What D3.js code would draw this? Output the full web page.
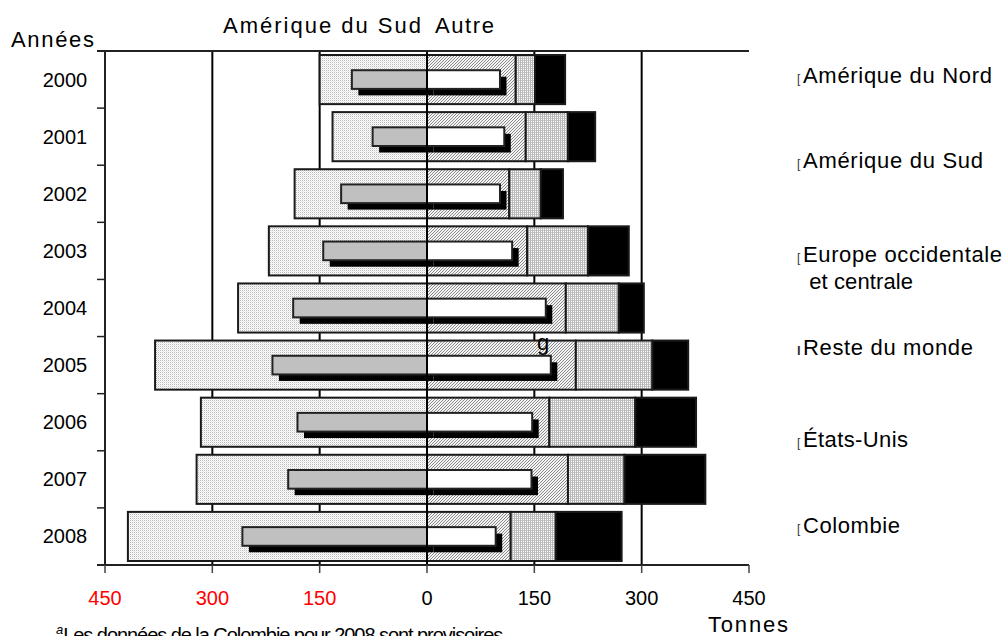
<!DOCTYPE html>
<html><head><meta charset="utf-8">
<script src="https://cdn.jsdelivr.net/npm/d3@7"></script>
<style>body{margin:0;background:#fff}svg{display:block}text{font-family:"Liberation Sans",Arial,sans-serif}</style>
</head><body><svg id="c" width="1005" height="636"></svg>
<script>
const years = ["2000","2001","2002","2003","2004","2005","2006","2007","2008"];
const ameriqueSud = [150,132,185,221,264,380,316,322,418];
const colombie = [105,76,120,145,187,216,181,194,258];
const etatsUnis = [102,108,102,119,166,173,147,146,96];
const ameriqueNord = [124,138,115,140,194,208,171,197,117];
const europe = [27,59,44,85,74,107,120,79,63];
const resteMonde = [42,38,31,57,35,50,85,113,92];
const xTicks = [-450,-300,-150,0,150,300,450];
const legendItems = [
  {lines:["Amérique du Nord"], y:83, w:[189]},
  {lines:["Amérique du Sud"], y:168, w:[180]},
  {lines:["Europe occidentale"," et centrale"], y:262, w:[199,110]},
  {lines:["Reste du monde"], y:355, w:[170]},
  {lines:["États-Unis"], y:447, w:[105]},
  {lines:["Colombie"], y:533, w:[97]}
];

const svg = d3.select("#c");
const x = d3.scaleLinear().domain([-450,450]).range([105,749]);
const y = d3.scaleBand().domain(years).range([51,565]).paddingInner(0.14).paddingOuter(0.07);

const defs = svg.append("defs");
const p1 = defs.append("pattern").attr("id","dots").attr("patternUnits","userSpaceOnUse").attr("width",2).attr("height",2);
p1.append("rect").attr("width",2).attr("height",2).attr("fill","#fff");
p1.append("rect").attr("width",1).attr("height",1).attr("fill","#b8b8b8");
p1.append("rect").attr("x",1).attr("y",1).attr("width",1).attr("height",1).attr("fill","#e6e6e6");
const p2 = defs.append("pattern").attr("id","hatch").attr("patternUnits","userSpaceOnUse").attr("width",3).attr("height",3);
p2.append("rect").attr("width",3).attr("height",3).attr("fill","#f4f4f4");
p2.append("path").attr("d","M0,3L3,0M-1,1L1,-1M2,4L4,2").attr("stroke","#8a8a8a").attr("stroke-width",1);
const p3 = defs.append("pattern").attr("id","grid").attr("patternUnits","userSpaceOnUse").attr("width",2).attr("height",2);
p3.append("rect").attr("width",2).attr("height",2).attr("fill","#fff");
p3.append("rect").attr("width",2).attr("height",1).attr("fill","#c8c8c8");
p3.append("rect").attr("width",1).attr("height",2).attr("fill","#b8b8b8");

svg.append("g").selectAll("line").data(xTicks.filter(d=>d!==0 && Math.abs(d)!==450)).join("line")
  .attr("x1",d=>x(d)).attr("x2",d=>x(d)).attr("y1",51).attr("y2",565)
  .attr("stroke","#000").attr("stroke-width",2);

const stackData = years.map((yr,i)=>({year:yr, nord:ameriqueNord[i], europe:europe[i], reste:resteMonde[i]}));
const stacked = d3.stack().keys(["nord","europe","reste"])(stackData);
const fills = {nord:"url(#hatch)", europe:"url(#grid)", reste:"#000"};

const bars = svg.append("g");
bars.selectAll("rect.sud").data(years).join("rect").attr("class","sud")
  .attr("x",(d,i)=>x(-ameriqueSud[i])).attr("width",(d,i)=>x(0)-x(-ameriqueSud[i]))
  .attr("y",d=>y(d)).attr("height",y.bandwidth())
  .attr("fill","url(#dots)").attr("stroke","#1a1a1a").attr("stroke-width",2);
stacked.forEach(s=>{
  bars.selectAll("rect.s-"+s.key).data(s).join("rect").attr("class","s-"+s.key)
    .attr("x",d=>x(d[0])).attr("width",d=>x(d[1])-x(d[0]))
    .attr("y",d=>y(d.data.year)).attr("height",y.bandwidth())
    .attr("fill",fills[s.key]).attr("stroke","#1a1a1a").attr("stroke-width",2);
});
const ih = y.bandwidth()*0.38, off = 6.5;
const iy = d => y(d)+(y.bandwidth()-ih)/2;
bars.selectAll("rect.shL").data(years).join("rect").attr("class","shL")
  .attr("x",(d,i)=>x(-colombie[i])+off).attr("width",(d,i)=>x(0)-x(-colombie[i]))
  .attr("y",d=>iy(d)+off).attr("height",ih).attr("fill","#000");
bars.selectAll("rect.shR").data(years).join("rect").attr("class","shR")
  .attr("x",x(0)+off).attr("width",(d,i)=>x(etatsUnis[i])-x(0))
  .attr("y",d=>iy(d)+off).attr("height",ih).attr("fill","#000");
bars.selectAll("rect.col").data(years).join("rect").attr("class","col")
  .attr("x",(d,i)=>x(-colombie[i])).attr("width",(d,i)=>x(0)-x(-colombie[i]))
  .attr("y",iy).attr("height",ih).attr("fill","#c0c0c0").attr("stroke","#222").attr("stroke-width",2);
bars.selectAll("rect.us").data(years).join("rect").attr("class","us")
  .attr("x",x(0)).attr("width",(d,i)=>x(etatsUnis[i])-x(0))
  .attr("y",iy).attr("height",ih).attr("fill","#fff").attr("stroke","#222").attr("stroke-width",2);

svg.append("line").attr("x1",x(0)).attr("x2",x(0)).attr("y1",51).attr("y2",565).attr("stroke","#000").attr("stroke-width",2);

svg.append("line").attr("x1",97).attr("x2",749).attr("y1",51).attr("y2",51).attr("stroke","#222").attr("stroke-width",2);
svg.append("line").attr("x1",x(-450)).attr("x2",x(-450)).attr("y1",51).attr("y2",565).attr("stroke","#222").attr("stroke-width",2);
const bounds = d3.range(years.length+1).map(i=> i===0?51:(i===years.length?565:y(years[i])-y.step()*y.paddingInner()/2));
svg.append("g").selectAll("line").data(bounds).join("line")
  .attr("x1",97).attr("x2",105).attr("y1",d=>d).attr("y2",d=>d).attr("stroke","#222").attr("stroke-width",1.5);
svg.append("line").attr("x1",97).attr("x2",749).attr("y1",565).attr("y2",565).attr("stroke","#222").attr("stroke-width",2);
svg.append("g").selectAll("line").data(xTicks).join("line")
  .attr("x1",d=>x(d)).attr("x2",d=>x(d)).attr("y1",565).attr("y2",573).attr("stroke","#444").attr("stroke-width",1.5);
svg.append("g").selectAll("text").data(xTicks).join("text")
  .attr("x",d=>x(d)).attr("y",605).attr("text-anchor","middle").attr("font-size",20)
  .attr("fill",d=>d<0?"#ff0000":"#000").text(d=>Math.abs(d));

svg.append("g").selectAll("text").data(years).join("text")
  .attr("x",65).attr("y",d=>y(d)+y.bandwidth()/2+7).attr("text-anchor","middle").attr("font-size",20).text(d=>d);

svg.append("text").attr("x",11).attr("y",47).attr("font-size",22).attr("textLength",83).attr("lengthAdjust","spacing").text("Années");
svg.append("text").attr("x",223).attr("y",33).attr("font-size",22).attr("textLength",198).attr("lengthAdjust","spacing").text("Amérique du Sud");
svg.append("text").attr("x",435).attr("y",33).attr("font-size",22).attr("textLength",59).attr("lengthAdjust","spacing").text("Autre");
svg.append("text").attr("x",708).attr("y",632).attr("font-size",22).attr("textLength",80).attr("lengthAdjust","spacing").text("Tonnes");
svg.append("text").attr("x",543).attr("y",350).attr("font-size",22).attr("text-anchor","middle").text("g");

const lg = svg.append("g");
legendItems.forEach((it,k)=>{
  lg.append("text").attr("x",797).attr("y",it.y).attr("font-size",k===3?13:12).attr("font-weight",k===3?"bold":"normal").attr("fill","#333").text(k===3?"I":"[");
  it.lines.forEach((ln,j)=>{
    lg.append("text").attr("x",803).attr("y",it.y+j*27).attr("font-size",22)
      .attr("textLength",it.w[j]).attr("lengthAdjust","spacing").attr("xml:space","preserve").text(ln);
  });
});

const fn = svg.append("text").attr("x",56).attr("y",642).attr("font-family","'Liberation Serif','Times New Roman',serif").attr("font-size",20);
fn.append("tspan").attr("font-size",13).attr("dy",-8).attr("font-style","italic").text("a");
fn.append("tspan").attr("dy",8).attr("textLength",440).attr("lengthAdjust","spacing").text("Les données de la Colombie pour 2008 sont provisoires");
</script></body></html>
